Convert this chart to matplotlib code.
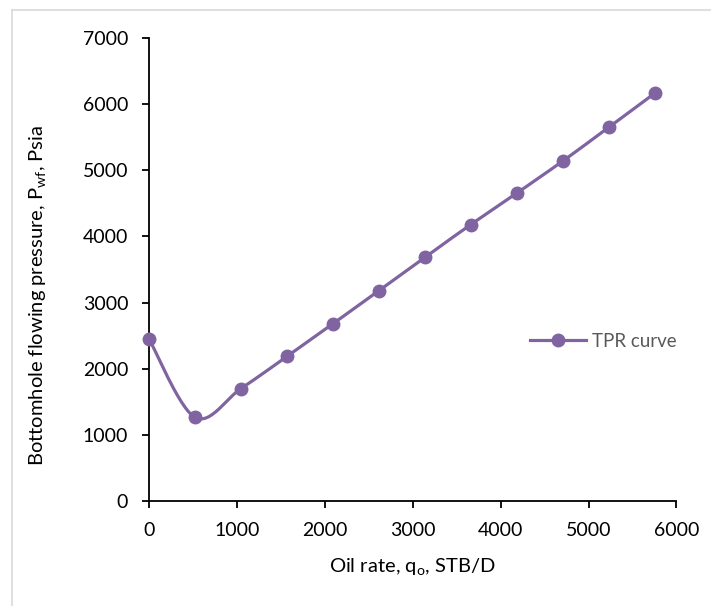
import numpy as np
import matplotlib
matplotlib.use("Agg")
import matplotlib.pyplot as plt
from matplotlib.lines import Line2D

oil_rate = [0, 523, 1046, 1569, 2092, 2615, 3138, 3661, 4184, 4707, 5230, 5753]
pwf = [2450, 1265, 1700, 2185, 2680, 3180, 3685, 4180, 4655, 5140, 5650, 6165]
x_ticks = [0, 1000, 2000, 3000, 4000, 5000, 6000]
y_ticks = [0, 1000, 2000, 3000, 4000, 5000, 6000, 7000]
series_name = "TPR curve"

plt.rcParams['font.family'] = ['Lato', 'DejaVu Sans']
color = '#8064A2'

fig = plt.figure(figsize=(7.11, 6.06), dpi=100)
ax = fig.add_axes([149/711, 1 - 501/606, (676.5-149)/711, (501-38)/606])

# Excel-like smoothed line (Catmull-Rom via cubic Bezier)
x = np.array(oil_rate, float)
y = np.array(pwf, float)
n = len(x)
sx, sy = [], []
t = np.linspace(0, 1, 30)
for i in range(n - 1):
    p0 = np.array([x[max(i-1, 0)], y[max(i-1, 0)]])
    p1 = np.array([x[i], y[i]])
    p2 = np.array([x[i+1], y[i+1]])
    p3 = np.array([x[min(i+2, n-1)], y[min(i+2, n-1)]])
    c1 = p1 + (p2 - p0) / 6
    c2 = p2 - (p3 - p1) / 6
    b = ((1-t)**3)[:, None]*p1 + (3*(1-t)**2*t)[:, None]*c1 + (3*(1-t)*t**2)[:, None]*c2 + (t**3)[:, None]*p2
    sx.extend(b[:, 0]); sy.extend(b[:, 1])

ax.plot(sx, sy, color=color, lw=2.3, solid_capstyle='round', zorder=3, clip_on=False)
ax.plot(x, y, 'o', color=color, ms=9, zorder=4, clip_on=False)

ax.set_xlim(0, 6000)
ax.set_ylim(0, 7000)
ax.set_xticks(x_ticks)
ax.set_yticks(y_ticks)
for s in ['top', 'right']:
    ax.spines[s].set_visible(False)
for s in ['left', 'bottom']:
    ax.spines[s].set_linewidth(1.3)
ax.tick_params(direction='out', length=5, width=1.3, labelsize=14, pad=10)

ax.set_xlabel('Oil rate, q$_\\mathregular{o}$, STB/D', fontsize=14.5, labelpad=13)
ax.set_ylabel('Bottomhole flowing pressure, P$_\\mathregular{wf}$, Psia', fontsize=14.5,
              labelpad=24, y=0.443)

handle = Line2D([], [], color=color, lw=2.3, marker='o', ms=9)
leg = ax.legend([handle], [series_name], loc='center left', bbox_to_anchor=(0.69, 0.345),
                frameon=False, fontsize=13.5, handlelength=3, handletextpad=0.3)
for txt in leg.get_texts():
    txt.set_color('#595959')

# outer chart border (left and top visible)
fig.add_artist(Line2D([12/711, 12/711], [0, 1 - 10/606], transform=fig.transFigure, color='#d9d9d9', lw=1.2))
fig.add_artist(Line2D([12/711, 1], [1 - 10/606, 1 - 10/606], transform=fig.transFigure, color='#d9d9d9', lw=1.2))

fig.savefig('out.png', dpi=100)
